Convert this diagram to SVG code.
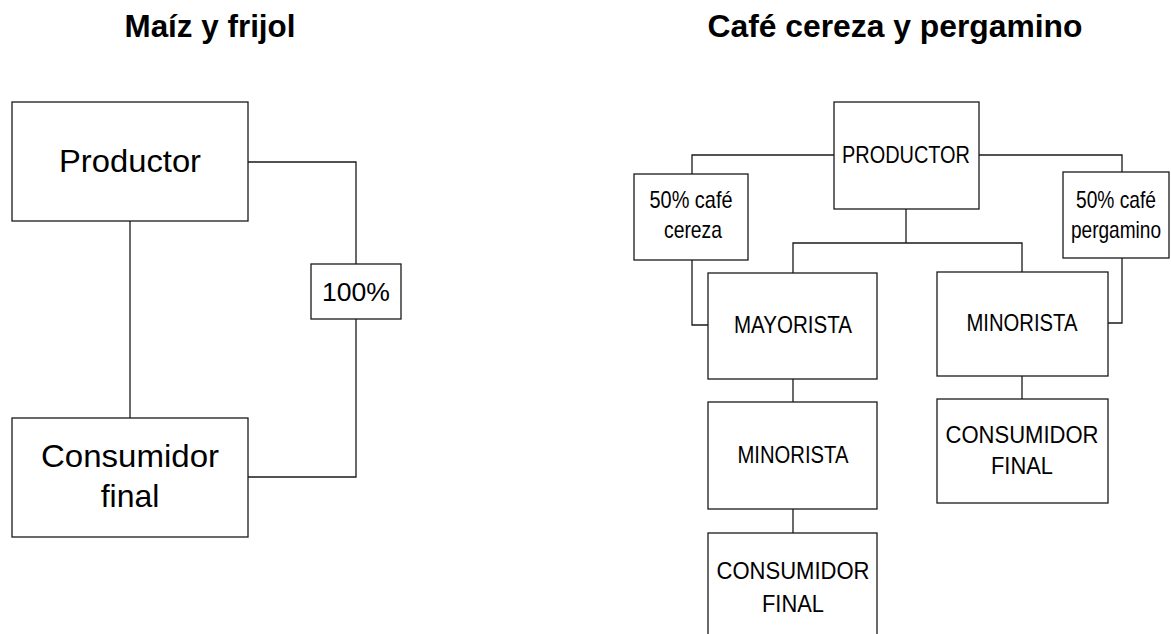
<svg xmlns="http://www.w3.org/2000/svg" width="1171" height="634" viewBox="0 0 1171 634">
<style>
.box{fill:#fff;stroke:#1a1a1a;stroke-width:1.3}
.ln{fill:none;stroke:#1a1a1a;stroke-width:1.3}
.title{font-family:"Liberation Sans",Arial,sans-serif;font-weight:bold;font-size:31px;fill:#000;text-anchor:middle}
.big{font-family:"Liberation Sans",Arial,sans-serif;font-size:32px;fill:#000;text-anchor:middle}
.mid{font-family:"Liberation Sans",Arial,sans-serif;font-size:26px;fill:#000;text-anchor:middle}
.nar{font-family:"Liberation Sans Narrow","Arial Narrow","Liberation Sans",sans-serif;font-size:24px;fill:#000;text-anchor:middle}
</style>
<rect width="1171" height="634" fill="#fff"/>
<text class="title" x="210" y="37" textLength="171" lengthAdjust="spacingAndGlyphs">Maíz y frijol</text>
<text class="title" x="895" y="37" textLength="375" lengthAdjust="spacingAndGlyphs">Café cereza y pergamino</text>
<g id="connectors">
<path class="ln" d="M130 221V418"/>
<path class="ln" d="M248 162H356V264"/>
<path class="ln" d="M356 319V477H248"/>
<path class="ln" d="M834 155H692V174"/>
<path class="ln" d="M692 260V325H708"/>
<path class="ln" d="M906 209V243"/>
<path class="ln" d="M793 273V243H1022V272"/>
<path class="ln" d="M979 155H1122V172"/>
<path class="ln" d="M1122 258V323H1108"/>
<path class="ln" d="M793 379V402"/>
<path class="ln" d="M793 509V533"/>
<path class="ln" d="M1022 376V399"/>
</g>
<g id="productor-mf"><rect class="box" x="12" y="102" width="236" height="119"/><text class="big" x="130" y="172" textLength="142" lengthAdjust="spacingAndGlyphs">Productor</text></g>
<g id="consumidor-mf"><rect class="box" x="12" y="418" width="236" height="119"/><text class="big" x="130" y="467" textLength="178" lengthAdjust="spacingAndGlyphs">Consumidor</text><text class="big" x="130" y="507">final</text></g>
<g id="pct100"><rect class="box" x="311" y="264" width="90" height="55"/><text class="mid" x="356" y="301" textLength="68" lengthAdjust="spacingAndGlyphs">100%</text></g>
<g id="productor"><rect class="box" x="834" y="102" width="145" height="107"/><text class="nar" x="906" y="163" textLength="128" lengthAdjust="spacingAndGlyphs">PRODUCTOR</text></g>
<g id="cereza"><rect class="box" x="634" y="174" width="114" height="86"/><text class="nar" x="691" y="208" textLength="83" lengthAdjust="spacingAndGlyphs">50% café</text><text class="nar" x="693" y="238" textLength="58" lengthAdjust="spacingAndGlyphs">cereza</text></g>
<g id="pergamino"><rect class="box" x="1063" y="172" width="106" height="86"/><text class="nar" x="1116" y="208" textLength="80" lengthAdjust="spacingAndGlyphs">50% café</text><text class="nar" x="1116" y="238" textLength="90" lengthAdjust="spacingAndGlyphs">pergamino</text></g>
<g id="mayorista"><rect class="box" x="708" y="273" width="169" height="106"/><text class="nar" x="793" y="333" textLength="118" lengthAdjust="spacingAndGlyphs">MAYORISTA</text></g>
<g id="minorista-r"><rect class="box" x="937" y="272" width="171" height="104"/><text class="nar" x="1022" y="331" textLength="111" lengthAdjust="spacingAndGlyphs">MINORISTA</text></g>
<g id="minorista-l"><rect class="box" x="708" y="402" width="169" height="107"/><text class="nar" x="793" y="463" textLength="111" lengthAdjust="spacingAndGlyphs">MINORISTA</text></g>
<g id="consumidor-l"><rect class="box" x="708" y="533" width="169" height="130"/><text class="nar" x="793" y="579" textLength="153" lengthAdjust="spacingAndGlyphs">CONSUMIDOR</text><text class="nar" x="793" y="612" textLength="62" lengthAdjust="spacingAndGlyphs">FINAL</text></g>
<g id="consumidor-r"><rect class="box" x="937" y="399" width="171" height="104"/><text class="nar" x="1022" y="443" textLength="153" lengthAdjust="spacingAndGlyphs">CONSUMIDOR</text><text class="nar" x="1022" y="474" textLength="62" lengthAdjust="spacingAndGlyphs">FINAL</text></g>
</svg>
